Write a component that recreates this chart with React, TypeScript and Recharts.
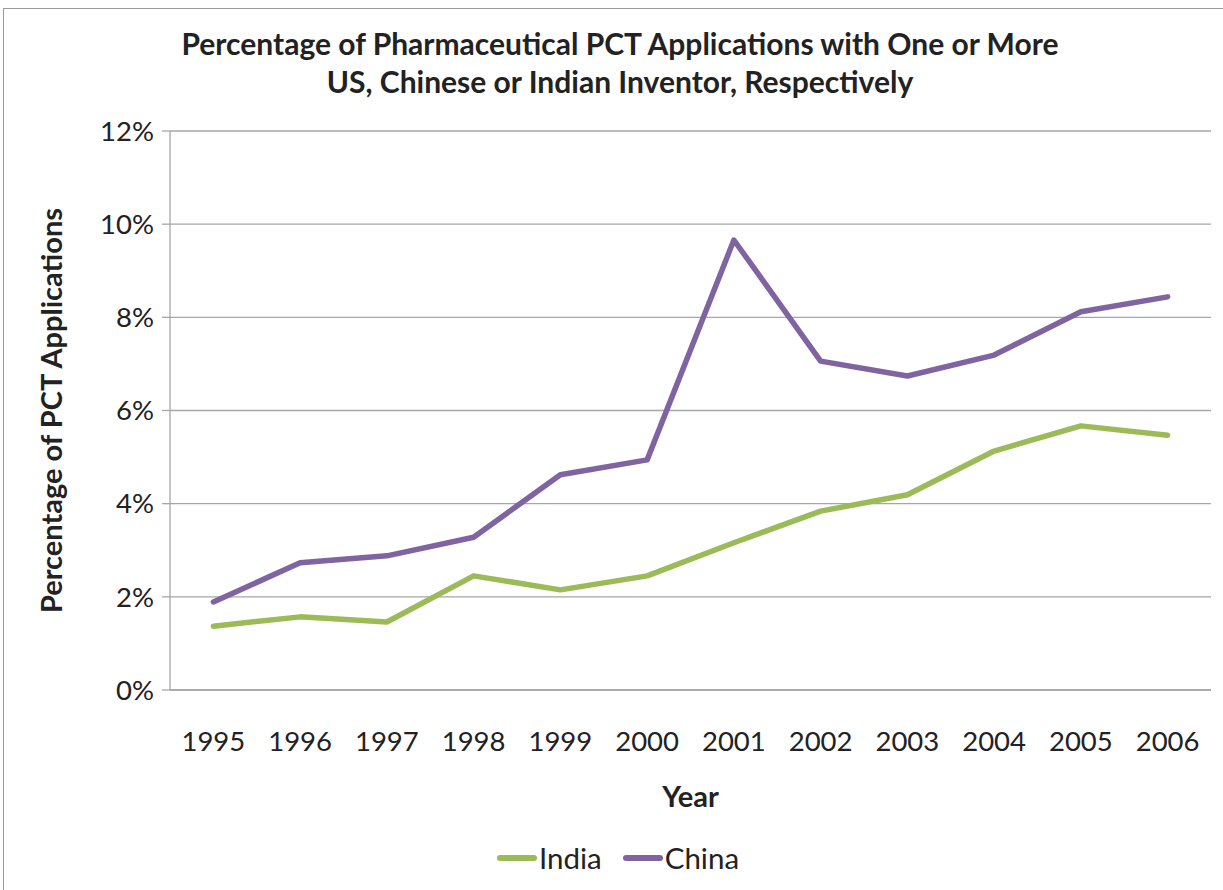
import React from "react";
import { CartesianGrid, Legend, Line, LineChart, XAxis, YAxis } from "recharts";

const years = [1995, 1996, 1997, 1998, 1999, 2000, 2001, 2002, 2003, 2004, 2005, 2006];
const india = [1.37, 1.57, 1.46, 2.45, 2.15, 2.45, 3.16, 3.84, 4.19, 5.13, 5.67, 5.47];
const china = [1.89, 2.73, 2.88, 3.28, 4.62, 4.94, 9.66, 7.06, 6.74, 7.19, 8.12, 8.44];
const yTicks = [0, 2, 4, 6, 8, 10, 12];
const boundaryTicks = [1994.5, ...years.map((y) => y + 0.5)];

const data = years.map((year, i) => ({ year, india: india[i], china: china[i] }));

const FONT = "Lato, 'Open Sans', sans-serif";
const GREEN = "#9BBB59";
const PURPLE = "#8064A2";
const GRID = "#a6a6a6";

function LegendContent() {
  const items = [
    { name: "India", color: GREEN },
    { name: "China", color: PURPLE },
  ];
  return (
    <div style={{ display: "flex", justifyContent: "center", alignItems: "center", fontFamily: FONT, fontSize: 29.5, color: "#222", paddingLeft: 44 }}>
      {items.map((it) => (
        <div key={it.name} style={{ display: "flex", alignItems: "center", marginRight: 20 }}>
          <svg width={42} height={10}>
            <line x1={4} y1={5} x2={38} y2={5} stroke={it.color} strokeWidth={6} strokeLinecap="round" />
          </svg>
          <span style={{ marginLeft: 1 }}>{it.name}</span>
        </div>
      ))}
    </div>
  );
}

export default function App() {
  return (
    <div style={{ position: "absolute", left: 0, top: 0, width: 1223, height: 890, background: "#fff" }}>
      <div
        style={{
          position: "absolute",
          left: 3,
          top: 8,
          width: 1230,
          height: 900,
          border: "1.5px solid #9a9a9a",
          boxSizing: "border-box",
        }}
      />
      <div
        style={{
          position: "absolute",
          left: 0,
          top: 24,
          width: 1240,
          textAlign: "center",
          fontFamily: FONT,
          fontWeight: 700,
          fontSize: 30,
          lineHeight: "38px",
          color: "#222",
        }}
      >
        Percentage of Pharmaceutical PCT Applications with One or More
        <br />
        US, Chinese or Indian Inventor, Respectively
      </div>
      <LineChart width={1223} height={890} data={data} margin={{ top: 131, right: 12, left: 0, bottom: 10 }}>
        <CartesianGrid horizontal vertical={false} stroke={GRID} strokeWidth={1.3} />
        <XAxis
          xAxisId="b"
          dataKey="year"
          type="number"
          domain={[1994.5, 2006.5]}
          ticks={boundaryTicks}
          tick={false}
          tickSize={8}
          height={10}
          stroke={GRID}
          strokeWidth={1.3}
        />
        <XAxis
          xAxisId="l"
          dataKey="year"
          type="number"
          domain={[1994.5, 2006.5]}
          ticks={years}
          interval={0}
          axisLine={false}
          tickLine={false}
          height={140}
          tick={{ fontFamily: FONT, fontSize: 27.5, fill: "#222", dy: 23 }}
          label={{
            value: "Year",
            position: "insideTop",
            offset: 86,
            style: { fontFamily: FONT, fontSize: 29, fontWeight: 700, fill: "#222" },
          }}
        />
        <YAxis
          domain={[0, 12]}
          ticks={yTicks}
          width={170}
          tickFormatter={(v) => `${v}%`}
          tick={{ fontFamily: FONT, fontSize: 27.5, fill: "#222", dx: -6 }}
          tickSize={8}
          stroke={GRID}
          strokeWidth={1.3}
          label={{
            value: "Percentage of PCT Applications",
            angle: -90,
            position: "insideLeft",
            offset: 52,
            style: { fontFamily: FONT, fontSize: 29, fontWeight: 700, fill: "#222", textAnchor: "middle" },
          }}
        />
        <Legend verticalAlign="bottom" height={40} content={<LegendContent />} />
        <Line
          xAxisId="b"
          dataKey="india"
          name="India"
          stroke={GREEN}
          strokeWidth={5.5}
          dot={false}
          strokeLinecap="round"
          strokeLinejoin="round"
          isAnimationActive={false}
        />
        <Line
          xAxisId="b"
          dataKey="china"
          name="China"
          stroke={PURPLE}
          strokeWidth={5.5}
          dot={false}
          strokeLinecap="round"
          strokeLinejoin="round"
          isAnimationActive={false}
        />
      </LineChart>
    </div>
  );
}
